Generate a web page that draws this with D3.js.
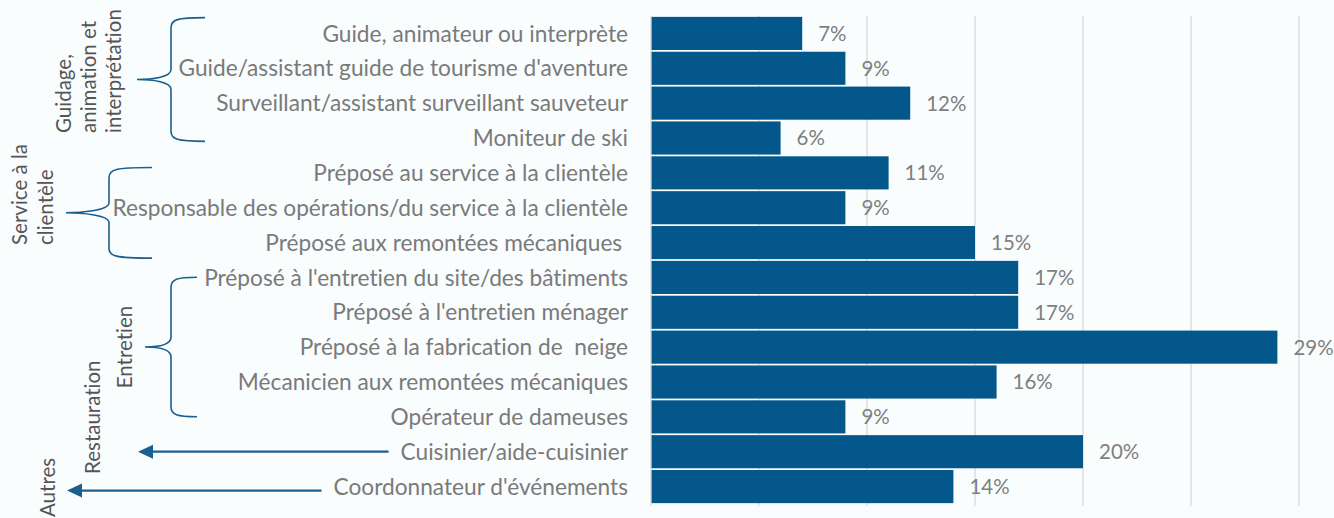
<!DOCTYPE html>
<html>
<head>
<meta charset="utf-8">
<script src="https://cdn.jsdelivr.net/npm/d3@7"></script>
<style>
  html, body { margin: 0; padding: 0; background: #f9fdfe; }
  svg { display: block; }
  text { white-space: pre; font-variant-ligatures: none; font-feature-settings: "liga" 0; }
</style>
</head>
<body>
<svg id="chart" width="1334" height="518"></svg>
<script>
// ---- data ----
const categories = [
  "Guide, animateur ou interprète",
  "Guide/assistant guide de tourisme d'aventure",
  "Surveillant/assistant surveillant sauveteur",
  "Moniteur de ski",
  "Préposé au service à la clientèle",
  "Responsable des opérations/du service à la clientèle",
  "Préposé aux remontées mécaniques ",
  "Préposé à l'entretien du site/des bâtiments",
  "Préposé à l'entretien ménager",
  "Préposé à la fabrication de  neige",
  "Mécanicien aux remontées mécaniques",
  "Opérateur de dameuses",
  "Cuisinier/aide-cuisinier",
  "Coordonnateur d'événements"
];
const values = [7, 9, 12, 6, 11, 9, 15, 17, 17, 29, 16, 9, 20, 14];
const tickValues = [0, 5, 10, 15, 20, 25, 30];

const bracketGroups = ["Guidage, animation et interprétation", "Service à la clientèle", "Entretien"];
const bracketLines = [["Guidage,", "animation et", "interprétation"], ["Service à la", "clientèle"], ["Entretien"]];
const bracketFirst = ["Guide, animateur ou interprète", "Préposé au service à la clientèle", "Préposé à l'entretien du site/des bâtiments"];
const bracketLast = ["Moniteur de ski", "Préposé aux remontées mécaniques ", "Opérateur de dameuses"];

const arrowGroups = ["Restauration", "Autres"];
const arrowTargets = ["Cuisinier/aide-cuisinier", "Coordonnateur d'événements"];

// ---- layout ----
const W = 1334, H = 518;
const plot = { left: 651, right: 1299, top: 16, bottom: 504 };
const barColor = "#03578a";
const bracketColor = "#1b5f8f";
const fontFam = "Lato, 'Open Sans', sans-serif";

const svg = d3.select("#chart");
svg.append("rect").attr("width", W).attr("height", H).attr("fill", "#f9fdfe");

const x = d3.scaleLinear().domain([0, 30]).range([plot.left, plot.right]);
const y = d3.scaleBand().domain(categories).range([plot.top, plot.bottom])
  .paddingInner(0.05).paddingOuter(0.025);

// gridlines
svg.append("g").selectAll("line").data(tickValues.filter(d => d > 0)).join("line")
  .attr("x1", d => x(d)).attr("x2", d => x(d))
  .attr("y1", plot.top).attr("y2", plot.bottom + 2)
  .attr("stroke", "#d9d9d9").attr("stroke-width", 1.3);

// bars
svg.append("g").selectAll("rect").data(values).join("rect")
  .attr("x", x(0))
  .attr("y", (d, i) => y(categories[i]))
  .attr("width", d => x(d) - x(0))
  .attr("height", y.bandwidth())
  .attr("fill", barColor);

// left axis line
svg.append("line")
  .attr("x1", x(0)).attr("x2", x(0))
  .attr("y1", plot.top).attr("y2", plot.bottom + 2)
  .attr("stroke", "#d9d9d9").attr("stroke-width", 1.3);

// category axis (labels only)
const yAxis = d3.axisLeft(y).tickSize(0).tickPadding(23);
const ag = svg.append("g").attr("transform", `translate(${x(0)},0)`).call(yAxis);
ag.select(".domain").remove();
ag.selectAll("text")
  .attr("font-family", fontFam)
  .attr("font-size", 22.7)
  .attr("fill", "#7a7a7a")
  .attr("dy", "0.36em");

// value labels
svg.append("g").selectAll("text").data(values).join("text")
  .attr("x", d => x(d) + 16)
  .attr("y", (d, i) => y(categories[i]) + y.bandwidth() / 2)
  .attr("dy", "0.36em")
  .attr("font-family", fontFam)
  .attr("font-size", 20.5)
  .attr("fill", "#7f7f7f")
  .text(d => d + "%");

// helpers
const step = y.step();
function bracketPath(x0, xs, xp, y0, y1) {
  const r = 10, ym = (y0 + y1) / 2;
  return `M${x0},${y0} C${xs + 6},${y0} ${xs},${y0 + 2} ${xs},${y0 + r}` +
    ` L${xs},${ym - r}` +
    ` C${xs},${ym - 2} ${xp + 14},${ym} ${xp},${ym}` +
    ` C${xp + 14},${ym} ${xs},${ym + 2} ${xs},${ym + r}` +
    ` L${xs},${y1 - r}` +
    ` C${xs},${y1 - 2} ${xs + 6},${y1} ${x0},${y1}`;
}

// bracket geometry: [tipX, spineX, pointX], vertical offsets within bands
const bracketX = [[205, 171, 137], [152, 109, 66], [197, 171, 145]];
const bracketYoff = [[0.05, 0.6], [0.35, 0.95], [0.5, 0.5]];
const labelBaselines = [[71, 96, 121], [27, 53], [132]];
const labelStartY = [133, 245, null];

const bg = svg.append("g");
bracketGroups.forEach((g, i) => {
  const [tx, sx, px] = bracketX[i];
  const y0 = y(bracketFirst[i]) + bracketYoff[i][0] * step - 1;
  const y1 = y(bracketLast[i]) + bracketYoff[i][1] * step - 1;
  bg.append("path").attr("d", bracketPath(tx, sx, px, y0, y1))
    .attr("fill", "none").attr("stroke", bracketColor).attr("stroke-width", 1.6);
  const ym = (y0 + y1) / 2;
  bracketLines[i].forEach((line, j) => {
    const t = bg.append("text")
      .attr("font-family", fontFam)
      .attr("font-size", 20.5)
      .attr("fill", "#555555")
      .text(line);
    if (labelStartY[i] === null) {
      t.attr("text-anchor", "middle")
        .attr("transform", `translate(${labelBaselines[i][j]},${ym}) rotate(-90)`);
    } else {
      t.attr("text-anchor", "start")
        .attr("transform", `translate(${labelBaselines[i][j]},${labelStartY[i]}) rotate(-90)`);
    }
  });
});

// arrows for single-category groups
const arrowTipX = [138, 67];
const arrowYoff = [0, 4];
const arrowLabelX = [100, 55];
const arrowLabelY = [474, 517];
arrowGroups.forEach((g, i) => {
  const cy = y(arrowTargets[i]) + y.bandwidth() / 2 + arrowYoff[i];
  let labelStart = 0;
  ag.selectAll(".tick").each(function(d) {
    if (d === arrowTargets[i]) {
      const bb = d3.select(this).select("text").node().getBBox();
      labelStart = x(0) + bb.x;
    }
  });
  const tip = arrowTipX[i];
  svg.append("line")
    .attr("x1", labelStart - 12).attr("x2", tip + 12)
    .attr("y1", cy).attr("y2", cy)
    .attr("stroke", bracketColor).attr("stroke-width", 2.2);
  svg.append("path")
    .attr("d", `M${tip},${cy} L${tip + 15},${cy - 7} L${tip + 15},${cy + 7} Z`)
    .attr("fill", bracketColor);
  svg.append("text")
    .attr("font-family", fontFam)
    .attr("font-size", 20.5)
    .attr("fill", "#555555")
    .attr("text-anchor", "start")
    .attr("transform", `translate(${arrowLabelX[i]},${arrowLabelY[i]}) rotate(-90)`)
    .text(g);
});
</script>
</body>
</html>
